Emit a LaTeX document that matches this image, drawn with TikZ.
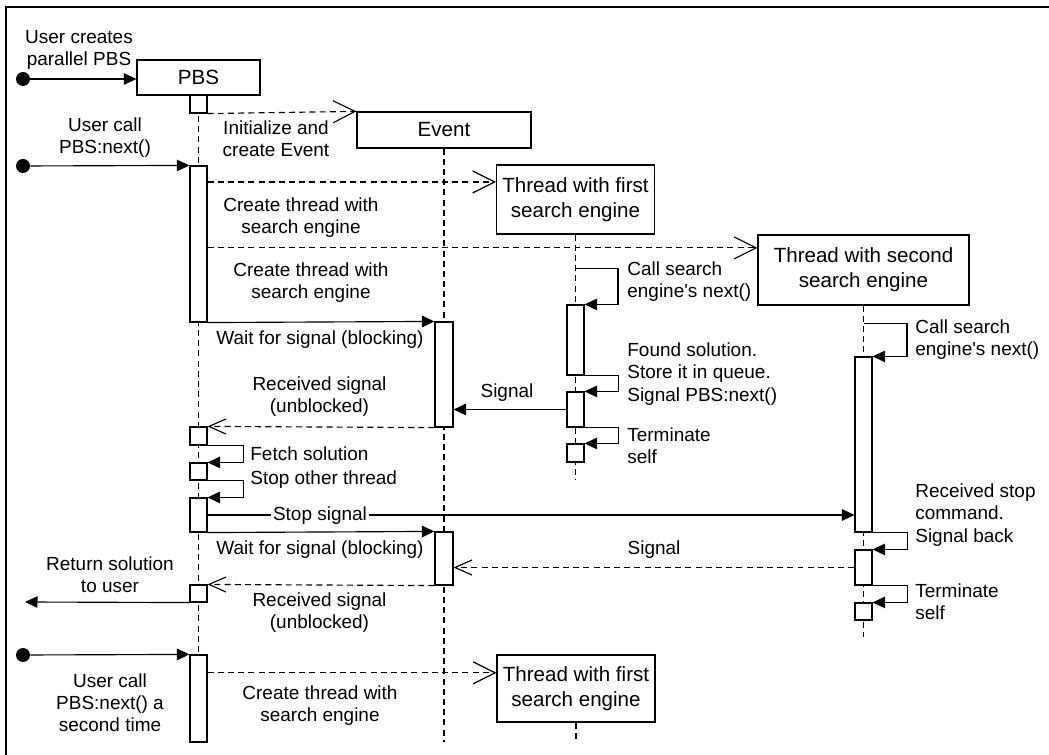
\documentclass[tikz,border=0pt]{standalone}
\usepackage{fontspec}
\setmainfont{Liberation Sans}
\usetikzlibrary{arrows.meta, positioning, calc, fit}
\tikzset{
	actor/.style   ={rectangle, draw=black, fill=white, line width=0.7pt, align=center, inner sep=1pt, font=\fontsize{11.7}{14.2}\selectfont},
	bar/.style     ={rectangle, draw=black, fill=white, line width=0.65pt, inner sep=0pt},
	lifeline/.style={dash pattern=on 3.4pt off 2.4pt, line width=0.65pt},
	msg/.style     ={-{Triangle[length=2.5mm, width=2.3mm]}, line width=0.65pt},
	create/.style  ={-{Straight Barb[length=4.4mm, width=4.4mm]}, dash pattern=on 3.4pt off 2.4pt, line width=0.65pt},
	reply/.style   ={-{Straight Barb[length=3.4mm, width=3mm]}, dash pattern=on 3.4pt off 2.4pt, line width=0.65pt},
	lbl/.style     ={align=center, inner sep=0pt, font=\fontsize{10.8}{12.6}\selectfont},
	note/.style    ={lbl, align=left, anchor=west},
	startdot/.style={circle, fill=black, minimum size=2.8mm, inner sep=0pt},
}

\begin{document}
\begin{tikzpicture}[x=0.2mm, y=-0.2mm]
	\useasboundingbox (0,0) rectangle (1049,755);
	\draw[line width=1.1pt] (6,755) -- (6,7) -- (1049,7);

	% participants
	\node[actor, minimum width=2.46cm, minimum height=0.7cm] (pbs) at (198.5,77.5) {PBS};
	\node[actor, minimum width=3.48cm, minimum height=0.72cm] (ev) at (444,130) {Event};
	\node[actor, minimum width=3.16cm, minimum height=1.38cm] (th1) at (575.5,199.5) {Thread with first\\search engine};
	\node[actor, minimum width=4.22cm, minimum height=1.4cm] (th2) at (863.5,270) {Thread with second\\search engine};
	\node[actor, minimum width=3.16cm, minimum height=1.34cm] (th3) at (576,688.5) {Thread with first\\search engine};

	% lifelines
	\coordinate (pbsEnd) at (198.5,742);
	\coordinate (evEnd) at (444,742);
	\coordinate (th1End) at (575.5,480);
	\coordinate (th2End) at (863.5,637);
	\coordinate (th3End) at (576,742);
	\draw[lifeline] (pbs.south) -- (pbsEnd);
	\draw[lifeline] (ev.south) -- (evEnd);
	\draw[lifeline] (th1.south) -- (th1End);
	\draw[lifeline] (th2.south) -- (th2End);
	\draw[lifeline] (th3.south) -- (th3End);

	% activation bars
	\node[bar, fit={(190,95) (207,113)}] (pA) {};
	\node[bar, fit={(190,166) (207,322)}] (pB) {};
	\node[bar, fit={(190,427) (207,445)}] (pC) {};
	\node[bar, fit={(190,463) (207,480)}] (pD) {};
	\node[bar, fit={(190,498) (207,532)}] (pE) {};
	\node[bar, fit={(190,585) (207,602)}] (pF) {};
	\node[bar, fit={(190,655) (207,742)}] (pG) {};
	\node[bar, fit={(435,322) (453,427)}] (eA) {};
	\node[bar, fit={(435,532) (453,585)}] (eB) {};
	\node[bar, fit={(567,305) (584,375)}] (tA) {};
	\node[bar, fit={(567,392) (584,427)}] (tB) {};
	\node[bar, fit={(567,444) (584,462)}] (tC) {};
	\node[bar, fit={(855,357) (872,532)}] (sA) {};
	\node[bar, fit={(855,550) (872,585)}] (sB) {};
	\node[bar, fit={(855,603) (872,620)}] (sC) {};

	% messages
	\node[startdot] (u1) at (23,79) {};
	\node[startdot] (u2) at (23,166) {};
	\node[startdot] (u3) at (23,655) {};
	\coordinate (ret) at (25,602);
	\coordinate (c1) at ($(th1.north west)!0.25!(th1.south west)$);
	\coordinate (c2) at ($(th2.north west)!0.19!(th2.south west)$);
	\coordinate (c3) at ($(th3.north west)!0.27!(th3.south west)$);
	\draw[msg] (u1) -- (u1 -| pbs.west);
	\draw[create] (pA.south east) -- (ev.north west);
	\draw[msg] (u2) -- (pB.north west);
	\draw[create] (pB.east |- c1) -- (c1);
	\draw[create] (pB.east |- c2) -- (c2);
	\draw[msg] (pB.south east) -- (eA.north west);
	\draw[reply] (eA.south west) -- (pC.north east);
	\draw[msg] (pC.south east) -- ++(36,0) |- (pD.north east);
	\draw[msg] (pD.south east) -- ++(36,0) |- (pE.north east);
	\draw[msg] (pE.east) -- (pE.east -| sA.west);
	\draw[msg] (pE.south east) -- (eB.north west);
	\draw[reply] (sB.west) -- (sB.west -| eB.east);
	\draw[reply] (eB.south west) -- (pF.north east);
	\draw[msg] (pF.south west) -- (ret);
	\draw[msg] (u3) -- (pG.north west);
	\draw[create] (pG.east |- c3) -- (c3);
	\draw[msg] ($(th1.south)+(0,34)$) -- ++(42.5,0) |- (tA.north east);
	\draw[msg] (tA.south east) -- ++(34,0) |- (tB.north east);
	\draw[msg] (tB.south east) -- ++(34,0) |- (tC.north east);
	\draw[msg] (tB.west) -- (tB.west -| eA.east);
	\draw[msg] ($(th2.south)+(0,18)$) -- ++(43.5,0) |- (sA.north east);
	\draw[msg] (sA.south east) -- ++(35,0) |- (sB.north east);
	\draw[msg] (sB.south east) -- ++(35,0) |- (sC.north east);

	% labels
	\node[lbl] (lNew) at (79,50) {User creates\\parallel PBS};
	\node[lbl] (lInit) at (276,139) {Initialize and\\create Event};
	\node[lbl] (lCall1) at (105,138) {User call\\PBS:next()};
	\node[lbl] (lMk1) at (301,218) {Create thread with\\search engine};
	\node[lbl] (lMk2) at (311,282.5) {Create thread with\\search engine};
	\node[lbl] (lWait1) at (320,340) {Wait for signal (blocking)};
	\node[lbl] (lRecv1) at (319.5,397) {Received signal\\(unblocked)};
	\node[note] (lFetch) at (250,454) {Fetch solution};
	\node[note] (lStop) at (250,480) {Stop other thread};
	\node[lbl, fill=white, inner xsep=1pt] (lStopSig) at (320,516) {Stop signal};
	\node[lbl] (lWait2) at (320,550) {Wait for signal (blocking)};
	\node[lbl] (lSig2) at (654,550) {Signal};
	\node[lbl] (lRet) at (110,574.5) {Return solution\\to user};
	\node[lbl] (lRecv2) at (319.5,613) {Received signal\\(unblocked)};
	\node[lbl] (lCall2) at (110,703) {User call\\PBS:next() a\\second time};
	\node[lbl] (lMk3) at (320,706) {Create thread with\\search engine};
	\node[lbl] (lSig1) at (507,393) {Signal};
	\node[note] (lT1a) at (627,281.5) {Call search\\engine\textquotesingle s next()};
	\node[note] (lT1b) at (627,374) {Found solution.\\Store it in queue.\\Signal PBS:next()};
	\node[note] (lT1c) at (627,445.5) {Terminate\\self};
	\node[note] (lT2a) at (915,339.5) {Call search\\engine\textquotesingle s next()};
	\node[note] (lT2b) at (915,515) {Received stop\\command.\\Signal back};
	\node[note] (lT2c) at (915,601.5) {Terminate\\self};
\end{tikzpicture}
\end{document}
